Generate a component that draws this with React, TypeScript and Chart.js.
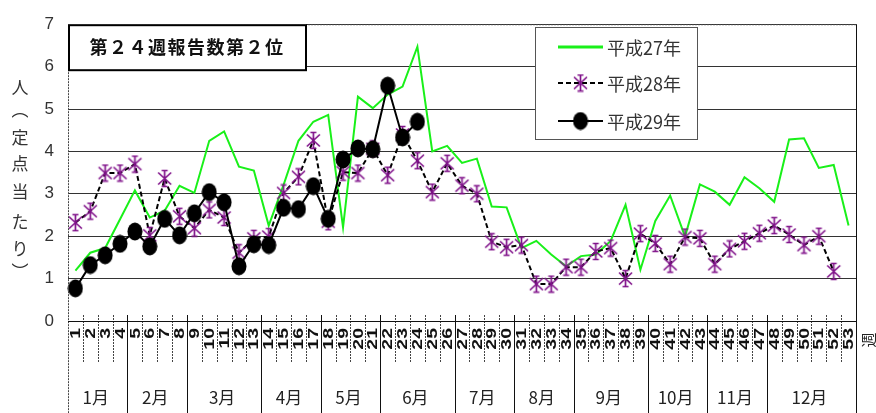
import React, { useEffect, useRef } from "react";
import { Chart, registerables } from "chart.js";
Chart.register(...registerables);

const weeks = ["1","2","3","4","5","6","7","8","9","10","11","12","13","14","15","16","17","18","19","20","21","22","23","24","25","26","27","28","29","30","31","32","33","34","35","36","37","38","39","40","41","42","43","44","45","46","47","48","49","50","51","52","53"];
const months = ["1月","2月","3月","4月","5月","6月","7月","8月","9月","10月","11月","12月"];
const monthEndWeeks = [4, 8, 13, 17, 21, 26, 30, 34, 39, 43, 47, 53];
const yTicks = [0, 1, 2, 3, 4, 5, 6, 7];

const h27 = [1.19,1.61,1.72,2.40,3.08,2.44,2.60,3.19,3.02,4.25,4.47,3.64,3.55,2.25,3.21,4.25,4.70,4.86,2.21,5.29,5.02,5.34,5.53,6.47,4.00,4.13,3.73,3.83,2.70,2.68,1.72,1.89,1.57,1.29,1.53,1.57,1.89,2.74,1.21,2.36,2.96,1.99,3.22,3.05,2.74,3.39,3.13,2.81,4.28,4.31,3.61,3.68,2.25];
const h28 = [2.32,2.59,3.49,3.49,3.70,2.02,3.36,2.47,2.19,2.62,2.44,1.61,1.95,1.99,3.02,3.40,4.26,2.34,3.51,3.49,4.06,3.44,4.40,3.78,3.04,3.72,3.19,3.00,1.87,1.74,1.79,0.87,0.87,1.27,1.27,1.64,1.72,1.00,2.06,1.83,1.34,1.98,1.95,1.34,1.70,1.88,2.07,2.25,2.04,1.79,2.00,1.17];
const h29 = [0.77,1.32,1.55,1.82,2.11,1.76,2.41,2.02,2.54,3.04,2.80,1.29,1.81,1.79,2.67,2.64,3.18,2.41,3.81,4.07,4.05,5.55,4.33,4.70];

const seriesNames = ["平成27年", "平成28年", "平成29年"];
const boxTitle = "第２４週報告数第２位";
const yTitleChars = ["人", "︵", "定", "点", "当", "た", "り", "︶"];
const xUnit = "週";

const JP = '"Noto Sans CJK JP", "Noto Sans", sans-serif';

function makeStar(): HTMLCanvasElement {
  const c = document.createElement("canvas");
  c.width = 17; c.height = 19;
  const g = c.getContext("2d")!;
  g.strokeStyle = "#80128a";
  g.lineWidth = 1.7;
  g.beginPath();
  g.moveTo(8.5, 1.5); g.lineTo(8.5, 17.5);
  g.moveTo(2, 3.5); g.lineTo(15, 15.5);
  g.moveTo(15, 3.5); g.lineTo(2, 15.5);
  g.moveTo(5.5, 1.5); g.lineTo(11.5, 1.5);
  g.moveTo(5.5, 17.5); g.lineTo(11.5, 17.5);
  g.stroke();
  return c;
}

function makeDot(): HTMLCanvasElement {
  const c = document.createElement("canvas");
  c.width = 16; c.height = 19;
  const g = c.getContext("2d")!;
  g.fillStyle = "#000";
  g.beginPath();
  g.ellipse(8, 9.5, 7.5, 9, 0, 0, Math.PI * 2);
  g.fill();
  return c;
}

export default function App() {
  const ref = useRef<HTMLCanvasElement>(null);
  useEffect(() => {
    document.body.style.margin = "0";
    const star = makeStar();
    const dot = makeDot();

    const decor = {
      id: "decor",
      afterDraw(chart: any) {
        const ctx = chart.ctx as CanvasRenderingContext2D;
        const { left, right, top, bottom } = chart.chartArea;
        const xs = chart.scales.x;
        const H = chart.height;
        const step = xs.getPixelForValue(1) - xs.getPixelForValue(0);
        ctx.save();
        // week separators (dotted)
        ctx.strokeStyle = "#444";
        ctx.lineWidth = 1;
        ctx.setLineDash([2, 1]);
        for (let i = 1; i < weeks.length; i++) {
          const px = Math.round(xs.getPixelForValue(i) - step / 2) + 0.5;
          ctx.beginPath(); ctx.moveTo(px, bottom - 6); ctx.lineTo(px, bottom + 42); ctx.stroke();
        }
        // left & top borders dotted
        ctx.beginPath(); ctx.moveTo(left + 0.5, top); ctx.lineTo(left + 0.5, H); ctx.stroke();
        ctx.beginPath(); ctx.moveTo(left, top + 0.5); ctx.lineTo(right, top + 0.5); ctx.stroke();
        // month separators solid
        ctx.setLineDash([]);
        ctx.strokeStyle = "#111";
        monthEndWeeks.forEach((e, idx) => {
          const px = Math.round(xs.getPixelForValue(e - 1) + step / 2) + 0.5;
          ctx.beginPath();
          ctx.moveTo(px, idx === monthEndWeeks.length - 1 ? top : bottom - 6);
          ctx.lineTo(px, H);
          ctx.stroke();
        });
        // x axis line
        ctx.beginPath(); ctx.moveTo(left, bottom + 0.5); ctx.lineTo(right, bottom + 0.5); ctx.stroke();
        // week labels rotated
        ctx.fillStyle = "#111";
        ctx.font = 'bold 15px "Liberation Sans", Arial, sans-serif';
        ctx.textAlign = "right";
        ctx.textBaseline = "middle";
        weeks.forEach((w, i) => {
          const px = xs.getPixelForValue(i);
          ctx.save();
          ctx.translate(px + 0.5, bottom + 7);
          ctx.rotate(-Math.PI / 2);
          ctx.scale(1.3, 1);
          ctx.fillText(w, 0, 0);
          ctx.restore();
        });
        // month labels
        ctx.font = `17px ${JP}`;
        ctx.fillStyle = "#222";
        ctx.textAlign = "center";
        let startW = 1;
        months.forEach((m, idx) => {
          const e = monthEndWeeks[idx];
          const x0 = xs.getPixelForValue(startW - 1) - step / 2;
          const x1 = xs.getPixelForValue(e - 1) + step / 2;
          ctx.fillText(m, (x0 + x1) / 2 - 2, 398);
          startW = e + 1;
        });
        // 週
        ctx.save();
        ctx.translate(868, 340);
        ctx.rotate(-Math.PI / 2);
        ctx.font = `15px ${JP}`;
        ctx.fillText(xUnit, 0, 0);
        ctx.restore();
        // y title (vertical)
        ctx.font = `17px ${JP}`;
        ctx.fillStyle = "#333";
        const ys = [88, 110, 138, 164, 192, 222, 249, 272];
        yTitleChars.forEach((ch, i) => ctx.fillText(ch, 20, ys[i]));
        // title box
        ctx.fillStyle = "#fff";
        ctx.fillRect(left, top, 238, 46);
        ctx.strokeStyle = "#000";
        ctx.lineWidth = 2;
        ctx.strokeRect(left + 1, top + 1, 237, 45);
        ctx.fillStyle = "#111";
        ctx.font = `bold 18px ${JP}`;
        (ctx as any).letterSpacing = "1.5px";
        ctx.textAlign = "center";
        ctx.fillText(boxTitle, left + 119, top + 23);
        (ctx as any).letterSpacing = "0px";
        // legend box
        const lx = 535, ly = 27, lw = 162, lh = 112;
        ctx.fillStyle = "#fff";
        ctx.fillRect(lx, ly, lw, lh);
        ctx.strokeStyle = "#555";
        ctx.lineWidth = 1;
        ctx.strokeRect(lx + 0.5, ly + 0.5, lw, lh);
        const rows = [47, 83, 121];
        const ds = chart.data.datasets;
        rows.forEach((ry, i) => {
          const d = ds[i];
          ctx.strokeStyle = d.borderColor;
          ctx.lineWidth = i === 0 ? 3 : 2;
          ctx.setLineDash(d.borderDash || []);
          ctx.beginPath(); ctx.moveTo(558, ry); ctx.lineTo(603, ry); ctx.stroke();
          ctx.setLineDash([]);
          if (i === 1) ctx.drawImage(star, 580.5 - star.width / 2, ry - star.height / 2);
          if (i === 2) ctx.drawImage(dot, 580.5 - dot.width / 2, ry - dot.height / 2);
          ctx.fillStyle = "#333";
          ctx.font = `18px ${JP}`;
          ctx.textAlign = "left";
          ctx.fillText(d.label, 607, ry + 1);
        });
        ctx.restore();
      },
    };

    const chart = new Chart(ref.current!, {
      type: "line",
      data: {
        labels: weeks,
        datasets: [
          {
            label: seriesNames[0], data: h27, borderColor: "#19f019", borderWidth: 2,
            pointRadius: 0, tension: 0, order: 3,
          },
          {
            label: seriesNames[1], data: h28, borderColor: "#000", borderWidth: 2, borderDash: [5, 3],
            pointStyle: star as any, pointRadius: 8, tension: 0, order: 2,
          },
          {
            label: seriesNames[2], data: h29, borderColor: "#000", borderWidth: 2,
            pointStyle: dot as any, pointRadius: 8, tension: 0, order: 1,
          },
        ],
      },
      options: {
        responsive: false,
        animation: false,
        layout: { padding: { top: 12, right: 20, left: 0, bottom: 0 } },
        plugins: { legend: { display: false }, tooltip: { enabled: false }, title: { display: false } },
        scales: {
          x: {
            type: "category",
            offset: true,
            grid: { display: false },
            border: { display: false },
            ticks: { display: false },
            afterFit: (s: any) => { s.height = 92; },
          },
          y: {
            min: 0, max: 7,
            afterBuildTicks: (s: any) => { s.ticks = yTicks.map((v) => ({ value: v })); },
            ticks: {
              color: "#333",
              padding: 14,
              font: { family: '"Liberation Sans Narrow", "Liberation Sans", Arial, sans-serif', size: 17 },
            },
            grid: { color: "#333", lineWidth: 1, drawTicks: false },
            border: { display: false },
            afterFit: (s: any) => { s.width = 68; },
          },
        },
      },
      plugins: [decor],
    });
    return () => chart.destroy();
  }, []);
  return (
    <div style={{ width: 876, height: 413 }}>
      <canvas ref={ref} width={876} height={413} style={{ display: "block" }} />
    </div>
  );
}
